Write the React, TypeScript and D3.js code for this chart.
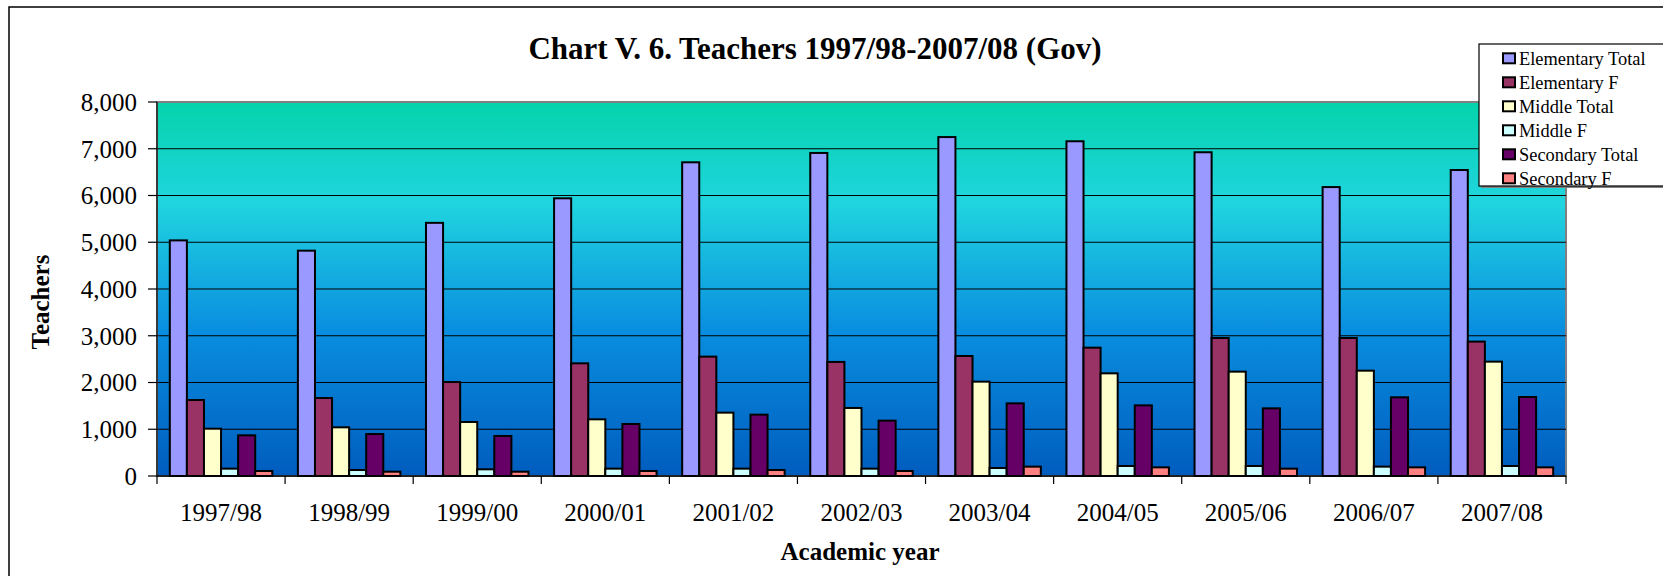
import React from "react";
import * as d3 from "d3";

const categories = ["1997/98","1998/99","1999/00","2000/01","2001/02","2002/03","2003/04","2004/05","2005/06","2006/07","2007/08"];
const seriesNames = ["Elementary Total","Elementary F","Middle Total","Middle F","Secondary Total","Secondary F"];
const elementaryTotal = [5040, 4820, 5415, 5940, 6710, 6910, 7250, 7160, 6925, 6180, 6545];
const elementaryF = [1625, 1668, 2010, 2410, 2553, 2440, 2567, 2745, 2952, 2952, 2875];
const middleTotal = [1012, 1041, 1155, 1212, 1355, 1455, 2018, 2196, 2232, 2253, 2446];
const middleF = [157, 128, 143, 157, 157, 157, 171, 214, 214, 200, 214];
const secondaryTotal = [870, 898, 856, 1112, 1312, 1184, 1554, 1511, 1447, 1683, 1690];
const secondaryF = [107, 92, 92, 107, 128, 107, 200, 185, 157, 185, 185];
const seriesColors = ["#9999FF","#993366","#FFFFCC","#CCFFFF","#660066","#FF8080"];
const yTicks = [0,1000,2000,3000,4000,5000,6000,7000,8000];

const seriesValues = [elementaryTotal, elementaryF, middleTotal, middleF, secondaryTotal, secondaryF];

const FONT = "'Liberation Serif', 'Times New Roman', serif";

export default function App() {
  const W = 1663, H = 576;
  const left = 157, right = 1566, top = 102, bottom = 476;
  const x0 = d3.scaleBand<string>().domain(categories).range([left, right]).padding(0);
  const x1 = d3.scaleBand<string>().domain(seriesNames).range([0, x0.bandwidth()]).paddingInner(0).paddingOuter(0.75);
  const y = d3.scaleLinear().domain([0, 8000]).range([bottom, top]);
  const fmt = d3.format(",");

  return (
    <svg width={W} height={H} style={{ position: "absolute", left: 0, top: 0, fontFamily: FONT }}>
      <defs>
        <linearGradient id="bg" x1="0" y1="0" x2="0" y2="1">
          <stop offset="0" stopColor="#04D3AB" />
          <stop offset="0.27" stopColor="#20D5DF" />
          <stop offset="0.6" stopColor="#0A90E0" />
          <stop offset="1" stopColor="#005CBE" />
        </linearGradient>
      </defs>
      <rect x={0} y={0} width={W} height={H} fill="#fff" />
      <rect x={9} y={7} width={W + 20} height={H + 20} fill="#fff" stroke="#000" strokeWidth={1.5} />
      <text x={815} y={59} textAnchor="middle" fontWeight="bold" fontSize={31}>
        Chart V. 6. Teachers 1997/98-2007/08 (Gov)
      </text>
      <rect x={left} y={top} width={right - left} height={bottom - top} fill="url(#bg)" stroke="#808080" strokeWidth={2} />
      {yTicks.filter(t => t > 0 && t < 8000).map(t => (
        <line key={t} x1={left} x2={right} y1={y(t)} y2={y(t)} stroke="#000" strokeWidth={1.2} />
      ))}
      {categories.map((c, ci) => (
        <g key={c} transform={`translate(${x0(c)},0)`}>
          {seriesNames.map((s, si) => {
            const v = seriesValues[si][ci];
            return (
              <rect key={s} x={x1(s)} y={y(v)} width={x1.bandwidth()} height={y(0) - y(v)}
                fill={seriesColors[si]} stroke="#000" strokeWidth={2} />
            );
          })}
        </g>
      ))}
      <line x1={left} x2={left} y1={top} y2={bottom} stroke="#222" strokeWidth={1.5} />
      <line x1={left} x2={right} y1={bottom} y2={bottom} stroke="#000" strokeWidth={1.5} />
      {yTicks.map(t => (
        <g key={t}>
          <line x1={left - 9} x2={left} y1={y(t)} y2={y(t)} stroke="#000" strokeWidth={1.2} />
          <text x={137} y={y(t)} dy="0.35em" textAnchor="end" fontSize={25}>{fmt(t)}</text>
        </g>
      ))}
      {categories.map((c, i) => (
        <line key={c} x1={x0(c)} x2={x0(c)} y1={bottom} y2={bottom + 8} stroke="#000" strokeWidth={1.2} />
      ))}
      <line x1={right} x2={right} y1={bottom} y2={bottom + 8} stroke="#000" strokeWidth={1.2} />
      {categories.map(c => (
        <text key={c} x={(x0(c) as number) + x0.bandwidth() / 2} y={521} textAnchor="middle" fontSize={25}>{c}</text>
      ))}
      <text transform="translate(40,302) rotate(-90)" dy="0.35em" textAnchor="middle" fontWeight="bold" fontSize={25}>Teachers</text>
      <text x={860} y={560} textAnchor="middle" fontWeight="bold" fontSize={25}>Academic year</text>
      <g>
        <rect x={1481} y={46} width={200} height={142} fill="#808080" />
        <rect x={1479} y={44} width={200} height={142} fill="#fff" stroke="#000" strokeWidth={1.2} />
        {seriesNames.map((s, i) => (
          <g key={s} transform={`translate(0,${58.3 + i * 24})`}>
            <rect x={1503} y={-5} width={12} height={10} fill={seriesColors[i]} stroke="#000" strokeWidth={2} />
            <text x={1519} y={0} dy="0.35em" fontSize={18.4}>{s}</text>
          </g>
        ))}
      </g>
    </svg>
  );
}
